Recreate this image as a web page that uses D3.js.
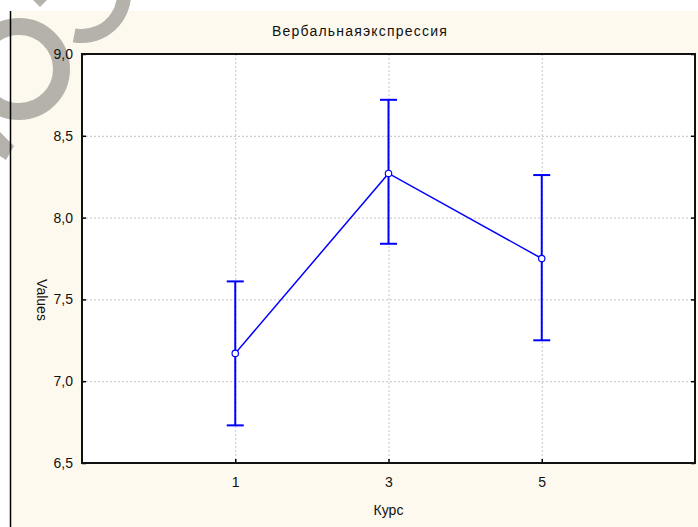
<!DOCTYPE html>
<html>
<head>
<meta charset="utf-8">
<script src="https://cdn.jsdelivr.net/npm/d3@7"></script>
<style>
  body { margin: 0; background: #fff; }
  svg { display: block; font-family: "Liberation Sans", Arial, sans-serif; }
  .tick text { font-size: 14px; fill: #111; }
</style>
</head>
<body>
<svg></svg>
<script>
// размеры
const width = 698;
const height = 527;
const margin = { top: 54, right: 3, bottom: 64, left: 82 };

// данные
const courses = [1, 3, 5];
const means = [7.17, 8.27, 7.75];
const lower = [6.73, 7.84, 7.25];
const upper = [7.61, 8.72, 8.26];
const yTicks = [6.5, 7.0, 7.5, 8.0, 8.5, 9.0];
const xTicks = [1, 3, 5];

const svg = d3.select("svg").attr("width", width).attr("height", height);

// фон
svg.append("rect").attr("x", 11).attr("y", 11)
  .attr("width", width - 11).attr("height", height - 11)
  .attr("fill", "#fef9ee");

// водяной знак (серые фигуры в углу)
const wm = svg.append("g").attr("fill", "none").attr("stroke", "#b4b2ab");
wm.append("circle").attr("cx", 19).attr("cy", 69).attr("r", 42.5).attr("stroke-width", 17);
wm.append("path")
  .attr("d", d3.arc().innerRadius(35).outerRadius(49)
    .startAngle(Math.PI * 0.3).endAngle(Math.PI * 1.06)())
  .attr("transform", "translate(82,-6)")
  .attr("stroke", "none").attr("fill", "#b4b2ab");
wm.append("path").attr("d", "M33,0 L47,0 L40,7 Z").attr("stroke", "none").attr("fill", "#b4b2ab");
wm.append("path").attr("d", "M0,132 L14,146 L6,160 L0,156 Z").attr("stroke", "none").attr("fill", "#b4b2ab");

// левая линия
svg.append("line").attr("x1", 10.5).attr("x2", 10.5).attr("y1", 11).attr("y2", height)
  .attr("stroke", "#000").attr("stroke-width", 1.5);

const x = d3.scaleLinear().domain([-1, 7]).range([margin.left, width - margin.right]);
const y = d3.scaleLinear().domain([6.5, 9.0]).range([height - margin.bottom, margin.top]);

// область графика
svg.append("rect")
  .attr("x", x(-1)).attr("y", y(9))
  .attr("width", x(7) - x(-1)).attr("height", y(6.5) - y(9))
  .attr("fill", "#fff");

// сетка
svg.append("g").selectAll("line")
  .data(yTicks.filter(d => d > 6.5 && d < 9))
  .join("line")
  .attr("x1", x(-1)).attr("x2", x(7))
  .attr("y1", d => y(d) + 0.5).attr("y2", d => y(d) + 0.5)
  .attr("stroke", "#c4c4c4").attr("stroke-dasharray", "2,2");

svg.append("g").selectAll("line")
  .data(xTicks)
  .join("line")
  .attr("x1", d => x(d) + 0.5).attr("x2", d => x(d) + 0.5)
  .attr("y1", y(9)).attr("y2", y(6.5))
  .attr("stroke", "#c4c4c4").attr("stroke-dasharray", "2,2");

const fmt = d => d3.format(".1f")(d).replace(".", ",");

// оси
svg.append("g")
  .attr("transform", `translate(${x(-1)},0)`)
  .call(d3.axisLeft(y).tickValues(yTicks).tickFormat(fmt).tickSize(-4).tickPadding(9))
  .call(g => g.select(".domain").remove());

svg.append("g")
  .attr("transform", `translate(${x(7)},0)`)
  .call(d3.axisRight(y).tickValues(yTicks).tickFormat("").tickSize(-4))
  .call(g => g.select(".domain").remove());

svg.append("g")
  .attr("transform", `translate(0,${y(6.5)})`)
  .call(d3.axisBottom(x).tickValues(xTicks).tickFormat(d3.format("d")).tickSize(-4).tickPadding(14))
  .call(g => g.select(".domain").remove());

svg.selectAll(".tick line").attr("stroke", "#000").attr("stroke-width", 1.5);

// рамка
svg.append("rect")
  .attr("x", x(-1)).attr("y", y(9))
  .attr("width", x(7) - x(-1)).attr("height", y(6.5) - y(9))
  .attr("fill", "none").attr("stroke", "#111").attr("stroke-width", 2);

// доверительные интервалы
const bars = svg.append("g").attr("stroke", "#0000ff").attr("stroke-width", 2);
courses.forEach((c, i) => {
  bars.append("line").attr("x1", x(c)).attr("x2", x(c)).attr("y1", y(lower[i])).attr("y2", y(upper[i]));
  bars.append("line").attr("x1", x(c) - 8.5).attr("x2", x(c) + 8.5).attr("y1", y(lower[i])).attr("y2", y(lower[i]));
  bars.append("line").attr("x1", x(c) - 8.5).attr("x2", x(c) + 8.5).attr("y1", y(upper[i])).attr("y2", y(upper[i]));
});

// линия средних
const line = d3.line().x((d, i) => x(courses[i])).y(d => y(d));
svg.append("path").datum(means)
  .attr("d", line)
  .attr("fill", "none").attr("stroke", "#0000ff").attr("stroke-width", 1.5);

svg.append("g").selectAll("circle")
  .data(means)
  .join("circle")
  .attr("cx", (d, i) => x(courses[i])).attr("cy", d => y(d))
  .attr("r", 3.2)
  .attr("fill", "#fff").attr("stroke", "#0000ff").attr("stroke-width", 1.2);

// подписи
svg.append("text")
  .attr("x", 360).attr("y", 36)
  .attr("text-anchor", "middle")
  .attr("font-size", 14).attr("letter-spacing", 1.2).attr("fill", "#111")
  .text("Вербальнаяэкспрессия");

svg.append("text")
  .attr("x", (x(-1) + x(7)) / 2).attr("y", 515)
  .attr("text-anchor", "middle")
  .attr("font-size", 14).attr("fill", "#111")
  .text("Курс");

svg.append("text")
  .attr("transform", "translate(37,300) rotate(90)")
  .attr("text-anchor", "middle")
  .attr("font-size", 14).attr("fill", "#111")
  .text("Values");
</script>
</body>
</html>
